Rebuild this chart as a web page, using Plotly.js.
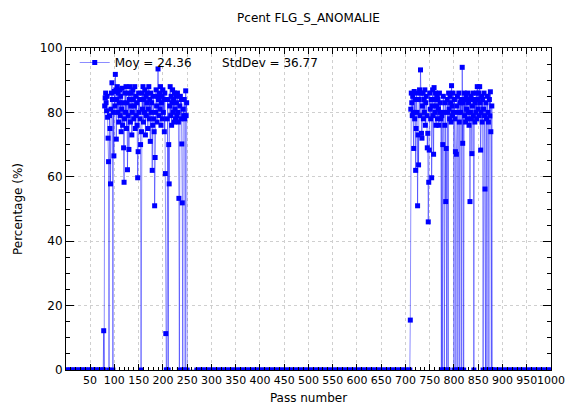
<!DOCTYPE html>
<html>
<head>
<meta charset="utf-8">
<script src="https://cdn.plot.ly/plotly-3.0.1.min.js"></script>
<style>html,body{margin:0;padding:0;background:#fff;}#chart{width:565px;height:405px;}</style>
</head>
<body>
<div id="chart"></div>
<script>
// ---- data ----
const leadPass = [1,5,9,13,17,21,25,29,33,37,41,45,49,53,57,61,65,69,73];
const leadPct  = [0,0,0,0,0,0,0,0,0,0,0,0,0,0,0,0,0,0,0];

const cluster1Pass = [77,78,79,80,81,82,83,84,85,86,87,88,89,90,91,92,93,94,95,96,97,98,99,100,101,102,103,104,105,106,107,108,109,110,111,112,113,114,115,116,117,118,119,120,121,122,123,124,125,126,127,128,129,130,131,132,133,134,135,136,137,138,139,140,141,142,143,144,145,146,147,148,149,150,151,152,153,154,155,156,157,158,159,160,161,162,163,164,165,166,167,168,169,170,171,172,173,174,175,176,177,178,179,180,181,182,183,184,185,186,187,188,189,190,191,192,193,194,195,196,197,198,199,200,201,202,203,204,205,206,207,208,209,210,211,212,213,214,215,216,217,218,219,220,221,222,223,224,225,226,227,228,229,230,231,232,233,234,235,236,237,238,239,240,241,242,243,244,245,246,247,248,249,250];
const cluster1Pct  = [0,12.2,0,82,84.5,86,83,80.5,85,78.5,72,64.7,0,79,75,57.8,81,86,89.2,84,0,80,66.5,86.5,82,91.8,87,71.7,84,88,80,86,77,83,87,79,85,74,81,87.5,76,83,69,58.3,78,86,80,88,75,83,62.2,79,86,68.5,84,88,77,82,86,73,80,87,84,78,82,88,75,85,79,83,76,59.7,67.8,86,80,84,78,70,0,74,86,81,88,77,84,80,87,73,85,79,83,86,75,81,88,78,84,71,86,80,83,62,76,85,78,74,51,66,80,87,82,77,85,93.5,84,79,86,81,88,76,83,85,78,87,80,84,74,86,61,11.3,0,0,78,84,0,70,57.8,82,88,79,85,76,83,87,80,84,77,86,81,78,85,83,79,86,80,77,53.3,0,82,85,78,84,70.2,51.9,0,81,79,84,78,0,86.7,79,83,0];

const midPass = [270,275,280,285,290,295,300,305,310,315,320,325,330,335,340,345,350,355,360,365,370,375,380,385,390,395,400,405,410,415,420,425,430,435,440,445,450,455,460,465,470,475,480,485,490,495,500,505,510,515,520,525,530,535,540,545,550,555,560,565,570,575,580,585,590,595,600,605,610,615,620,625,630,635,640,645,650,655,660,665,670,675,680,685,690,695,700,705];
const midPct  = [0,0,0,0,0,0,0,0,0,0,0,0,0,0,0,0,0,0,0,0,0,0,0,0,0,0,0,0,0,0,0,0,0,0,0,0,0,0,0,0,0,0,0,0,0,0,0,0,0,0,0,0,0,0,0,0,0,0,0,0,0,0,0,0,0,0,0,0,0,0,0,0,0,0,0,0,0,0,0,0,0,0,0,0,0,0,0,0];

const cluster2Pass = [709,710,711,712,713,714,715,716,717,718,719,720,721,722,723,724,725,726,727,728,729,730,731,732,733,734,735,736,737,738,739,740,741,742,743,744,745,746,747,748,749,750,751,752,753,754,755,756,757,758,759,760,761,762,763,764,765,766,767,768,769,770,771,772,773,774,775,776,777,778,779,780,781,782,783,784,785,786,787,788,789,790,791,792,793,794,795,796,797,798,799,800,801,802,803,804,805,806,807,808,809,810,811,812,813,814,815,816,817,818,819,820,821,822,823,824,825,826,827,828,829,830,831,832,833,834,835,836,837,838,839,840,841,842,843,844,845,846,847,848,849,850,851,852,853,854,855,856,857,858,859,860,861,862,863,864,865,866,867,868,869,870,871,872,873,874,875,876,877,878,879];
const cluster2Pct  = [0,15.5,81,86,83,79,85,80,68.8,86.5,78,84,62,75,86,80,51,73,63.7,84,87,79,93.2,86,73.5,72,82,86,78,84,80,87,76,83,85,79,69,73.5,46,58.3,68.3,86,81,78,84,59.7,82,87,79,67,87.7,84,80,86,76,82,85,78,84,81,76,86,80,83,78,0,79,0,70,85,80,0,76,83,52.3,68.8,0,84,80,0,86,81,78,85,83,77,88.3,82,79,86,80,0,84,78,67.8,0,67,82,85,0,80,86,77,0,83,80,84,0,94,70.4,83,0,86,79,84,77,85,81,78,86,80,83,76,84,52.3,80,85,78,67.2,82,86,79,0,84,77,83,80,86,78,88,84,81,86,79,88,83,68.3,80,85,77,84,0,81,86,79,56.2,0,83,78,0,85,80,77,0,84,78.9,86.4,74,0,82,0];

const tailPass = [882,887,892,897,902,907,912,917,922,927,932,937,942,947,952,957,962,967,972,977,982,987,992,997,1000];
const tailPct  = [0,0,0,0,0,0,0,0,0,0,0,0,0,0,0,0,0,0,0,0,0,0,0,0,0];

const meanValue = '24.36';
const stdValue = '36.77';
const xTickVals = [50,100,150,200,250,300,350,400,450,500,550,600,650,700,750,800,850,900,950,1000];
const yTickVals = [0,20,40,60,80,100];

const passNumber = [].concat(leadPass, cluster1Pass, midPass, cluster2Pass, tailPass);
const percentage = [].concat(leadPct, cluster1Pct, midPct, cluster2Pct, tailPct);

const gap = '\u00a0'.repeat(8);
const trace = {
  x: passNumber,
  y: percentage,
  type: 'scatter',
  mode: 'lines+markers',
  name: 'Moy = ' + meanValue + gap + 'StdDev = ' + stdValue,
  line: {color: 'rgba(0,0,255,0.45)', width: 1},
  marker: {symbol: 'square', size: 5, color: 'rgb(0,0,255)', line: {width: 0}},
  showlegend: true
};

const font = {family: 'DejaVu Sans, sans-serif', size: 12, color: '#000'};
const xTickFont = {family: 'DejaVu Sans, sans-serif', size: 11, color: '#000'};
const layout = {
  width: 565, height: 405,
  margin: {l: 66, r: 14, t: 48, b: 35, pad: 0},
  paper_bgcolor: '#fff', plot_bgcolor: '#fff',
  font: font,
  title: {text: 'Pcent FLG_S_ANOMALIE', font: {family: 'DejaVu Sans, sans-serif', size: 12, color: '#000'}, x: 0.546, xanchor: 'center', y: 0.955, yanchor: 'middle'},
  showlegend: true,
  legend: {x: 0.018, y: 1.0, xanchor: 'left', yanchor: 'top', bgcolor: 'rgba(0,0,0,0)', borderwidth: 0, itemwidth: 30, font: font},
  xaxis: {
    range: [0.3, 1000], tickmode: 'array', tickvals: xTickVals, ticktext: xTickVals.map(String),
    tickangle: 0, ticklabeloverflow: 'allow',
    ticks: 'inside', ticklen: 6, tickwidth: 1, tickcolor: '#000', mirror: 'allticks',
    showline: true, linecolor: '#000', linewidth: 1, zeroline: false,
    showgrid: true, gridcolor: '#cfcfcf', griddash: '3px,3px', gridwidth: 1,
    minor: {tickmode: 'linear', tick0: 0, dtick: 10, ticks: 'inside', ticklen: 3, tickcolor: '#000', showgrid: false},
    title: {text: 'Pass number', font: font, standoff: 8},
    tickfont: xTickFont
  },
  yaxis: {
    range: [0, 100], tickmode: 'array', tickvals: yTickVals,
    ticks: 'inside', ticklen: 8, tickwidth: 1, tickcolor: '#000', mirror: 'allticks',
    showline: true, linecolor: '#000', linewidth: 1, zeroline: false,
    showgrid: true, gridcolor: '#cfcfcf', griddash: '3px,3px', gridwidth: 1,
    minor: {tickmode: 'linear', tick0: 0, dtick: 5, ticks: 'inside', ticklen: 4, tickcolor: '#000', showgrid: false},
    title: {text: 'Percentage (%)', font: font, standoff: 14},
    tickfont: font
  }
};

Plotly.newPlot('chart', [trace], layout, {displayModeBar: false, staticPlot: true});
</script>
</body>
</html>
